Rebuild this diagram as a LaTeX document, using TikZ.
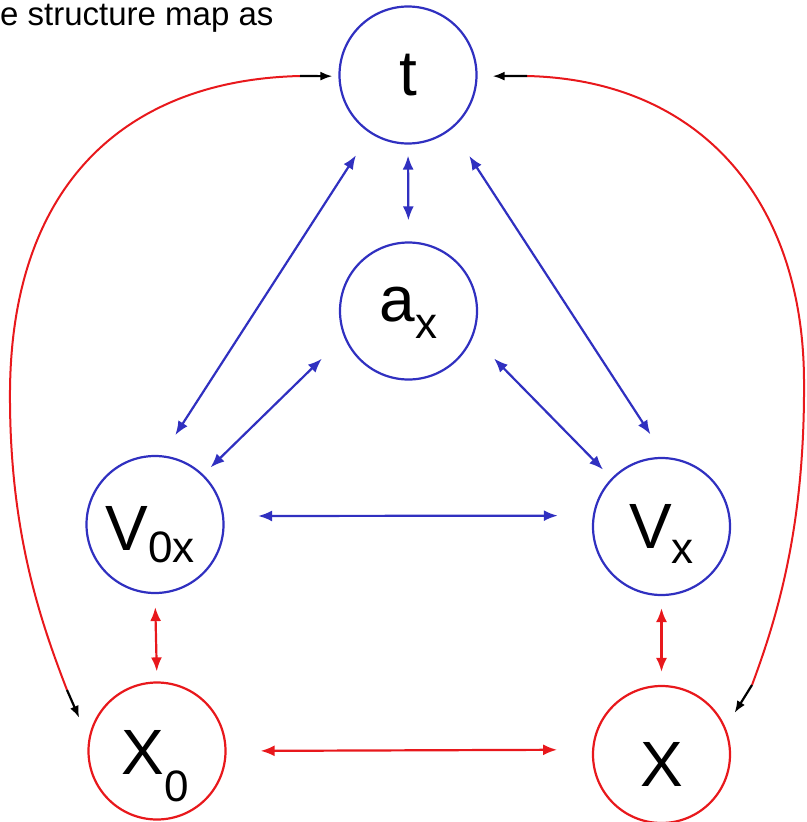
\documentclass[tikz,border=0pt]{standalone}
\usepackage{fontspec}
\setmainfont{Liberation Sans}
\usetikzlibrary{arrows.meta}
\definecolor{mapblue}{RGB}{48,48,192}
\definecolor{mapred}{RGB}{232,24,28}
\newcommand{\sbs}[2]{\raisebox{#1}{\fontsize{44}{44}\selectfont #2}}

\begin{document}
\begin{tikzpicture}[x=1pt, y=-1pt,
    circ/.style={circle, draw, line width=2.2pt, minimum size=137pt, inner sep=0pt},
    lbl/.style={font=\fontsize{64}{64}\selectfont, inner sep=0pt, text=black},
    barrow/.style={mapblue, line width=2.2pt, {Latex[length=14pt,width=11pt]}-{Latex[length=14pt,width=11pt]}},
    rarrow/.style={mapred, line width=2.2pt, {Latex[length=14pt,width=11pt]}-{Latex[length=14pt,width=11pt]}},
    redline/.style={mapred, line width=2pt},
    tipline/.style={black, line width=2.2pt, -{Latex[length=12pt,width=9pt]}}]
    \useasboundingbox (0,0) rectangle (806,822);

    % Подпись сверху
    \node[anchor=base west, inner sep=0pt, font=\fontsize{33}{33}\selectfont] (title) at (0,25) {e structure map as};

    % Узлы
    \node[circ, mapblue, label={[lbl]center:t}] (t) at (408,75) {};
    \node[circ, mapblue, label={[lbl, yshift=-1.5pt]center:{a\sbs{-17pt}{x}}}] (ax) at (408.5,311) {};
    \node[circ, mapblue, label={[lbl, xshift=-5pt, yshift=-10pt]center:{V\sbs{-12pt}{0x}}}] (V0x) at (155,524.5) {};
    \node[circ, mapblue, label={[lbl, yshift=-7pt]center:{V\sbs{-15pt}{x}}}] (Vx) at (661.5,526.5) {};
    \node[circ, mapred, label={[lbl, xshift=-1.5pt, yshift=-15pt]center:{X\sbs{-27pt}{0}}}] (X0) at (157,751) {};
    \node[circ, mapred, label={[lbl, yshift=-10pt]center:X}] (X) at (661.5,754.5) {};

    % Синие связи
    \draw[barrow, shorten <=11pt, shorten >=21pt] (t.270) -- (ax.90);
    \draw[barrow, shorten <=26pt, shorten >=24pt] (t.237) -- (V0x.84);
    \draw[barrow, shorten <=32pt, shorten >=27pt] (t.309) -- (Vx.87);
    \draw[barrow, shorten <=31pt, shorten >=10pt] (ax.202) -- (V0x.46);
    \draw[barrow, shorten <=30pt, shorten >=12pt] (ax.338) -- (Vx.136);
    \draw[barrow, shorten <=34pt, shorten >=35pt] (V0x.7) -- (Vx.171);

    % Красные связи
    \draw[rarrow, shorten <=13pt, shorten >=10pt] (V0x.270) -- (X0.90);
    \draw[rarrow, shorten <=12pt, shorten >=13pt] (Vx.270) -- (X.90);
    \draw[rarrow, shorten <=34pt, shorten >=35pt] (X0.0) -- (X.176);

    % Дуги от t
    \coordinate (tl) at (300,76);
    \coordinate (bl) at (67,690);
    \coordinate (tr) at (527,76);
    \coordinate (br) at (752,685);
    \draw[redline] (tl) .. controls (130,80) and (12,180) .. (10,390) .. controls (9,530) and (40,620) .. (bl);
    \draw[redline] (tr) .. controls (700,80) and (803,200) .. (804,380) .. controls (805,520) and (780,610) .. (br);
    \draw[tipline, shorten >=6pt] (tl) -- (t.181);
    \draw[tipline, shorten >=15pt] (tr) -- (t.359);
    \draw[tipline, shorten >=23pt] (bl) -- (X0.170);
    \draw[tipline, shorten >=17pt] (br) -- (X.23);
\end{tikzpicture}
\end{document}
